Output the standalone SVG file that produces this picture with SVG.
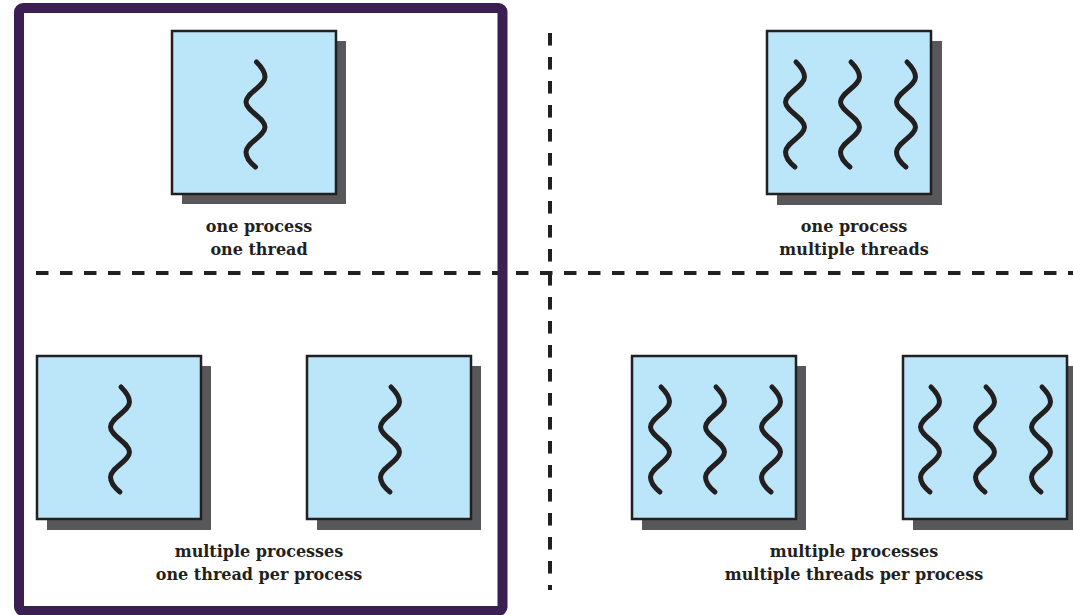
<svg xmlns="http://www.w3.org/2000/svg" xmlns:xlink="http://www.w3.org/1999/xlink" width="1073" height="615" viewBox="0 0 1073 615">
<style>
.shadow{fill:#58585a}
.box{fill:#bbe5f8;stroke:#231f20;stroke-width:2.5}
.thr{fill:none;stroke:#231f20;stroke-width:5;stroke-linecap:round}
.dash{stroke:#231f20;stroke-width:4;stroke-dasharray:12.5 11.5;fill:none}
.frame{fill:none;stroke:#3b1f52;stroke-width:10}
.lbl{font-family:"DejaVu Serif",serif;font-weight:700;font-size:16px;fill:#231f20;text-anchor:middle}
</style>
<defs>
<path id="sq" class="thr" d="M1,0 C5,4 9.5,9 9.5,15 C9.5,24 -9.5,31 -9.5,40 C-9.5,49 9.5,56 9.5,65 C9.5,74 -9.5,81 -9.5,90 C-9.5,96 -5,101 0,105"/>
</defs>
<rect width="1073" height="615" fill="#ffffff"/>
<g id="dividers">
<line class="dash" x1="36" y1="273" x2="1073" y2="273"/>
<line class="dash" x1="550" y1="33" x2="550" y2="590"/>
</g>
<rect id="highlight-frame" class="frame" x="19" y="8" width="483.5" height="603" rx="4"/>
<g id="p1">
<rect class="shadow" x="182" y="41" width="164" height="163"/>
<rect class="box" x="172" y="31" width="164" height="163"/>
<use href="#sq" xlink:href="#sq" x="255.5" y="62"/>
</g>
<g id="label1">
<text class="lbl" x="259" y="232">one process</text>
<text class="lbl" x="259" y="255">one thread</text>
</g>
<g id="p2">
<rect class="shadow" x="777" y="41" width="165" height="164"/>
<rect class="box" x="767" y="31" width="164" height="163"/>
<use href="#sq" xlink:href="#sq" x="795" y="62"/>
<use href="#sq" xlink:href="#sq" x="850" y="62"/>
<use href="#sq" xlink:href="#sq" x="906" y="62"/>
</g>
<g id="label2">
<text class="lbl" x="854" y="232">one process</text>
<text class="lbl" x="854" y="255">multiple threads</text>
</g>
<g id="p3a">
<rect class="shadow" x="47" y="366" width="164" height="164"/>
<rect class="box" x="37" y="356" width="164" height="163"/>
<use href="#sq" xlink:href="#sq" x="120" y="387"/>
</g>
<g id="p3b">
<rect class="shadow" x="317" y="366" width="164" height="164"/>
<rect class="box" x="307" y="356" width="164" height="163"/>
<use href="#sq" xlink:href="#sq" x="390" y="387"/>
</g>
<g id="label3">
<text class="lbl" x="259" y="557">multiple processes</text>
<text class="lbl" x="259" y="580">one thread per process</text>
</g>
<g id="p4a">
<rect class="shadow" x="642" y="366" width="164" height="164"/>
<rect class="box" x="632" y="356" width="164" height="163"/>
<use href="#sq" xlink:href="#sq" x="660" y="387"/>
<use href="#sq" xlink:href="#sq" x="715" y="387"/>
<use href="#sq" xlink:href="#sq" x="771" y="387"/>
</g>
<g id="p4b">
<rect class="shadow" x="913" y="366" width="164" height="164"/>
<rect class="box" x="903" y="356" width="164" height="163"/>
<use href="#sq" xlink:href="#sq" x="930" y="387"/>
<use href="#sq" xlink:href="#sq" x="985" y="387"/>
<use href="#sq" xlink:href="#sq" x="1041" y="387"/>
</g>
<g id="label4">
<text class="lbl" x="854" y="557">multiple processes</text>
<text class="lbl" x="854" y="580">multiple threads per process</text>
</g>
</svg>
